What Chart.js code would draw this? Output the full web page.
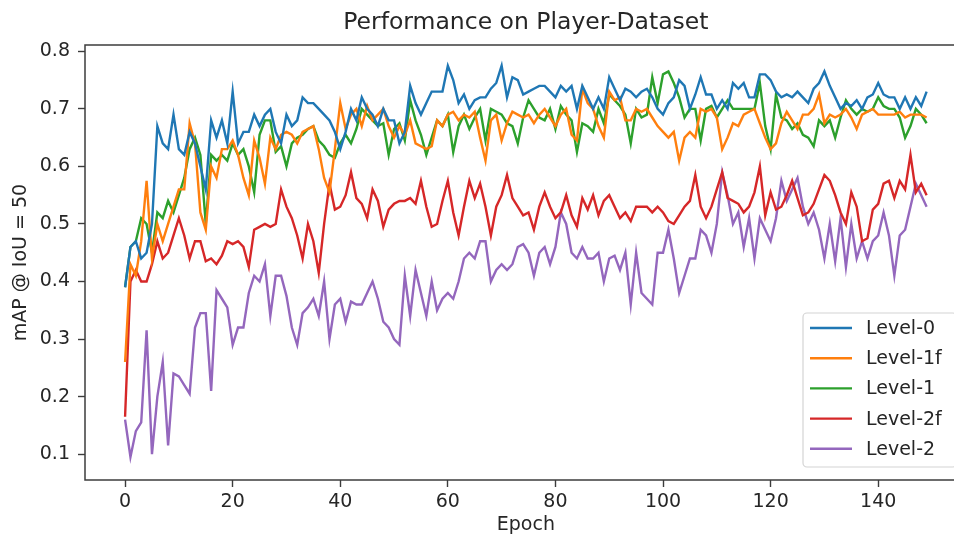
<!DOCTYPE html>
<html>
<head>
<meta charset="utf-8">
<title>Performance on Player-Dataset</title>
<script src="https://cdn.jsdelivr.net/npm/chart.js@4/dist/chart.umd.min.js"></script>
<style>
  html, body { margin: 0; padding: 0; background: #fff; overflow: hidden; }
  #plot { display: block; }
</style>
</head>
<body>
<canvas id="plot" width="980" height="538"></canvas>
<script>
// ---- data -------------------------------------------------------------
const chartTitle = 'Performance on Player-Dataset';
const xTitle = 'Epoch';
const yTitle = 'mAP @ IoU = 50';
const seriesNames = ['Level-0', 'Level-1f', 'Level-1', 'Level-2f', 'Level-2'];
const seriesColors = ['#1f77b4', '#ff7f0e', '#2ca02c', '#d62728', '#9467bd'];

const epochs = Array.from({ length: 150 }, (_, i) => i);

const level0 = [
  0.39, 0.46, 0.47, 0.44, 0.45, 0.50, 0.67, 0.64, 0.63, 0.69, 0.63, 0.62, 0.66, 0.64, 0.60, 0.56, 0.68, 0.65, 0.68,
  0.64, 0.73, 0.64, 0.66, 0.66, 0.69, 0.67, 0.69, 0.70, 0.66, 0.64, 0.69, 0.67, 0.68, 0.72, 0.71, 0.71, 0.70, 0.69, 0.68,
  0.66, 0.63, 0.66, 0.70, 0.68, 0.72, 0.70, 0.69, 0.67, 0.70, 0.68, 0.68, 0.64, 0.66, 0.74, 0.71, 0.69, 0.71, 0.73,
  0.73, 0.73, 0.775, 0.75, 0.71, 0.725, 0.70, 0.715, 0.72, 0.72, 0.735, 0.745, 0.775, 0.72, 0.755, 0.75, 0.725, 0.73, 0.735, 0.74,
  0.74, 0.73, 0.72, 0.74, 0.73, 0.74, 0.70, 0.74, 0.72, 0.70, 0.72, 0.70, 0.755, 0.735, 0.715, 0.735, 0.73, 0.72, 0.73,
  0.735, 0.72, 0.70, 0.69, 0.71, 0.72, 0.75, 0.74, 0.70, 0.725, 0.755, 0.725, 0.725, 0.70, 0.715, 0.70, 0.745, 0.735, 0.745, 0.72, 0.72,
  0.76, 0.76, 0.75, 0.73, 0.72, 0.725, 0.72, 0.73, 0.72, 0.71, 0.735, 0.745, 0.765, 0.74, 0.72, 0.70, 0.71, 0.705,
  0.715, 0.70, 0.72, 0.725, 0.745, 0.725, 0.72, 0.72, 0.70, 0.72, 0.70, 0.72, 0.705, 0.73
];

const level1f = [
  0.26, 0.43, 0.41, 0.47, 0.575, 0.44, 0.50, 0.47, 0.50, 0.53, 0.56, 0.56, 0.675, 0.64, 0.52, 0.49, 0.60, 0.58, 0.63,
  0.63, 0.645, 0.62, 0.58, 0.55, 0.645, 0.615, 0.57, 0.65, 0.63, 0.655, 0.66, 0.655, 0.64, 0.66, 0.665, 0.67, 0.63, 0.58, 0.555,
  0.63, 0.71, 0.665, 0.69, 0.70, 0.67, 0.705, 0.68, 0.69, 0.70, 0.67, 0.65, 0.67, 0.655, 0.68, 0.64, 0.635, 0.63, 0.635,
  0.68, 0.67, 0.69, 0.695, 0.68, 0.69, 0.685, 0.695, 0.65, 0.61, 0.68, 0.69, 0.645, 0.675, 0.695, 0.69, 0.685, 0.69, 0.675, 0.69,
  0.70, 0.685, 0.67, 0.69, 0.70, 0.655, 0.645, 0.735, 0.71, 0.70, 0.67, 0.65, 0.73, 0.715, 0.72, 0.68, 0.68, 0.70, 0.695,
  0.70, 0.685, 0.67, 0.66, 0.65, 0.66, 0.61, 0.65, 0.66, 0.65, 0.70, 0.695, 0.70, 0.685, 0.63, 0.65, 0.675, 0.67, 0.69, 0.695, 0.70,
  0.675, 0.65, 0.63, 0.64, 0.675, 0.695, 0.68, 0.665, 0.69, 0.69, 0.70, 0.725, 0.675, 0.69, 0.685, 0.69, 0.70, 0.685,
  0.665, 0.69, 0.695, 0.70, 0.69, 0.69, 0.69, 0.69, 0.695, 0.685, 0.69, 0.69, 0.69, 0.685
];

const level1 = [
  0.39, 0.46, 0.47, 0.51, 0.50, 0.45, 0.52, 0.51, 0.54, 0.52, 0.55, 0.58, 0.63, 0.65, 0.62, 0.50, 0.62, 0.61, 0.62,
  0.61, 0.64, 0.62, 0.63, 0.60, 0.555, 0.655, 0.68, 0.68, 0.625, 0.635, 0.60, 0.64, 0.65, 0.655, 0.665, 0.67, 0.645, 0.635, 0.62,
  0.615, 0.64, 0.655, 0.64, 0.665, 0.70, 0.69, 0.68, 0.67, 0.675, 0.62, 0.665, 0.675, 0.645, 0.715, 0.68, 0.655, 0.62, 0.65,
  0.68, 0.67, 0.69, 0.625, 0.67, 0.69, 0.665, 0.685, 0.70, 0.645, 0.70, 0.695, 0.69, 0.675, 0.67, 0.64, 0.685, 0.715, 0.70, 0.685,
  0.68, 0.70, 0.665, 0.705, 0.69, 0.68, 0.625, 0.675, 0.67, 0.66, 0.70, 0.675, 0.725, 0.715, 0.705, 0.69, 0.64, 0.70, 0.685,
  0.69, 0.755, 0.71, 0.76, 0.765, 0.745, 0.72, 0.685, 0.70, 0.70, 0.645, 0.70, 0.705, 0.685, 0.70, 0.715, 0.70, 0.70, 0.70, 0.70, 0.70,
  0.745, 0.67, 0.63, 0.725, 0.685, 0.68, 0.665, 0.675, 0.655, 0.65, 0.635, 0.68, 0.67, 0.68, 0.65, 0.685, 0.715, 0.70,
  0.69, 0.70, 0.695, 0.70, 0.72, 0.705, 0.70, 0.70, 0.685, 0.65, 0.67, 0.70, 0.69, 0.675
];

const level2f = [
  0.165, 0.40, 0.42, 0.40, 0.40, 0.43, 0.47, 0.44, 0.45, 0.48, 0.51, 0.48, 0.44, 0.47, 0.47, 0.435, 0.44, 0.43, 0.445,
  0.47, 0.465, 0.47, 0.46, 0.425, 0.49, 0.495, 0.50, 0.495, 0.50, 0.56, 0.53, 0.51, 0.48, 0.44, 0.50, 0.47, 0.415, 0.50, 0.57,
  0.525, 0.53, 0.55, 0.59, 0.545, 0.535, 0.51, 0.56, 0.54, 0.495, 0.525, 0.535, 0.54, 0.54, 0.545, 0.535, 0.575, 0.53, 0.495,
  0.50, 0.54, 0.575, 0.52, 0.48, 0.53, 0.575, 0.545, 0.57, 0.53, 0.48, 0.53, 0.55, 0.585, 0.545, 0.53, 0.515, 0.52, 0.49, 0.53,
  0.555, 0.53, 0.51, 0.52, 0.55, 0.515, 0.495, 0.545, 0.525, 0.55, 0.515, 0.54, 0.55, 0.53, 0.51, 0.52, 0.505, 0.53, 0.53,
  0.53, 0.52, 0.53, 0.52, 0.505, 0.50, 0.515, 0.53, 0.54, 0.585, 0.53, 0.51, 0.53, 0.56, 0.59, 0.545, 0.54, 0.535, 0.52, 0.53, 0.555,
  0.60, 0.515, 0.555, 0.525, 0.53, 0.55, 0.575, 0.545, 0.515, 0.52, 0.535, 0.56, 0.585, 0.575, 0.55, 0.52, 0.50, 0.555,
  0.53, 0.47, 0.475, 0.525, 0.535, 0.57, 0.575, 0.545, 0.575, 0.56, 0.62, 0.555, 0.57, 0.55
];

const level2 = [
  0.16, 0.095, 0.14, 0.155, 0.315, 0.10, 0.20, 0.26, 0.115, 0.24, 0.235, 0.22, 0.205, 0.32, 0.345, 0.345, 0.21, 0.385, 0.37,
  0.355, 0.29, 0.32, 0.32, 0.38, 0.41, 0.40, 0.43, 0.34, 0.41, 0.41, 0.375, 0.32, 0.29, 0.345, 0.355, 0.37, 0.34, 0.40, 0.30,
  0.36, 0.37, 0.33, 0.365, 0.36, 0.36, 0.38, 0.40, 0.37, 0.33, 0.32, 0.30, 0.29, 0.41, 0.34, 0.42, 0.38, 0.34, 0.40,
  0.35, 0.37, 0.38, 0.37, 0.40, 0.44, 0.45, 0.44, 0.47, 0.47, 0.40, 0.42, 0.43, 0.42, 0.43, 0.46, 0.465, 0.45, 0.41, 0.45,
  0.46, 0.43, 0.46, 0.52, 0.50, 0.45, 0.44, 0.46, 0.44, 0.44, 0.45, 0.40, 0.44, 0.445, 0.42, 0.45, 0.36, 0.45, 0.38,
  0.37, 0.36, 0.45, 0.45, 0.49, 0.44, 0.38, 0.41, 0.44, 0.44, 0.49, 0.48, 0.45, 0.50, 0.59, 0.55, 0.50, 0.52, 0.46, 0.51, 0.44,
  0.51, 0.49, 0.47, 0.51, 0.575, 0.54, 0.56, 0.58, 0.53, 0.50, 0.52, 0.49, 0.44, 0.50, 0.435, 0.51, 0.425, 0.50,
  0.44, 0.47, 0.44, 0.47, 0.48, 0.52, 0.48, 0.41, 0.48, 0.49, 0.53, 0.57, 0.55, 0.53
];

const seriesValues = [level0, level1f, level1, level2f, level2];

// axis ranges (data range plus a 5% margin on each side)
const xRange = [-7.45, 156.45];
const yRange = [0.055, 0.811];
const xTickStep = 20;
const yTickStep = 0.1;

// ---- styling ----------------------------------------------------------
const FONT = '"DejaVu Sans", "Liberation Sans", sans-serif';
const TEXT = '#262626';
const SPINE = '#3c3c3c';

// frame, title and legend drawn around the plot
const decor = {
  id: 'decor',
  afterDraw(chart) {
    const { ctx, chartArea: a } = chart;
    ctx.save();

    // axes frame
    ctx.strokeStyle = SPINE;
    ctx.lineWidth = 1.5;
    ctx.strokeRect(a.left, a.top, a.right - a.left, a.bottom - a.top);

    // title centred over the axes
    ctx.fillStyle = TEXT;
    ctx.font = '23.5px ' + FONT;
    ctx.textAlign = 'center';
    ctx.textBaseline = 'middle';
    ctx.fillText(chartTitle, (a.left + a.right) / 2, 23);

    // legend box in the lower right corner
    const bx = 803, by = 313, bw = a.right - 10 - bx, bh = a.bottom - 13 - by;
    const r = 4;
    ctx.beginPath();
    ctx.moveTo(bx + r, by);
    ctx.lineTo(bx + bw - r, by);
    ctx.arcTo(bx + bw, by, bx + bw, by + r, r);
    ctx.lineTo(bx + bw, by + bh - r);
    ctx.arcTo(bx + bw, by + bh, bx + bw - r, by + bh, r);
    ctx.lineTo(bx + r, by + bh);
    ctx.arcTo(bx, by + bh, bx, by + bh - r, r);
    ctx.lineTo(bx, by + r);
    ctx.arcTo(bx, by, bx + r, by, r);
    ctx.closePath();
    ctx.fillStyle = 'rgba(255,255,255,0.8)';
    ctx.fill();
    ctx.strokeStyle = '#d4d4d4';
    ctx.lineWidth = 1.2;
    ctx.stroke();

    ctx.font = '19px ' + FONT;
    ctx.textAlign = 'left';
    ctx.textBaseline = 'middle';
    chart.data.datasets.forEach((ds, i) => {
      const yy = 328 + i * 30.2;
      ctx.strokeStyle = ds.borderColor;
      ctx.lineWidth = 2.4;
      ctx.beginPath();
      ctx.moveTo(810, yy);
      ctx.lineTo(852, yy);
      ctx.stroke();
      ctx.fillStyle = TEXT;
      ctx.fillText(ds.label, 866, yy + 1);
    });

    ctx.restore();
  }
};

const datasets = seriesNames.map((name, k) => ({
  label: name,
  data: seriesValues[k].map((v, i) => ({ x: epochs[i], y: v })),
  borderColor: seriesColors[k],
  backgroundColor: seriesColors[k],
  borderWidth: 2.4,
  pointRadius: 0,
  tension: 0,
  fill: false
}));

new Chart(document.getElementById('plot'), {
  type: 'line',
  data: { datasets },
  options: {
    responsive: false,
    animation: false,
    events: [],
    layout: { padding: { left: 0, right: 13.3, top: 45, bottom: 0 } },
    plugins: {
      legend: { display: false },
      title: { display: false },
      tooltip: { enabled: false }
    },
    scales: {
      x: {
        type: 'linear',
        min: xRange[0],
        max: xRange[1],
        border: { display: false },
        grid: { display: true, drawOnChartArea: false, drawTicks: true, tickLength: 7, tickColor: SPINE, tickWidth: 1.4 },
        ticks: {
          stepSize: xTickStep,
          includeBounds: false,
          padding: 3.6,
          color: TEXT,
          font: { family: FONT, size: 19 },
          maxRotation: 0,
          callback: (v) => String(v)
        },
        title: {
          display: true,
          text: xTitle,
          color: TEXT,
          font: { family: FONT, size: 19 },
          padding: { top: 0, bottom: 1.6 }
        },
        afterFit: (s) => { s.height = 58; }
      },
      y: {
        type: 'linear',
        min: yRange[0],
        max: yRange[1],
        border: { display: false },
        grid: { display: true, drawOnChartArea: false, drawTicks: true, tickLength: 7, tickColor: SPINE, tickWidth: 1.4 },
        ticks: {
          stepSize: yTickStep,
          includeBounds: false,
          padding: 8,
          color: TEXT,
          font: { family: FONT, size: 19 },
          callback: (v) => v.toFixed(1)
        },
        title: {
          display: true,
          text: yTitle,
          color: TEXT,
          font: { family: FONT, size: 19 },
          padding: { top: 9.6, bottom: 0 }
        },
        afterFit: (s) => { s.width = 85; }
      }
    }
  },
  plugins: [decor]
});
</script>
</body>
</html>
